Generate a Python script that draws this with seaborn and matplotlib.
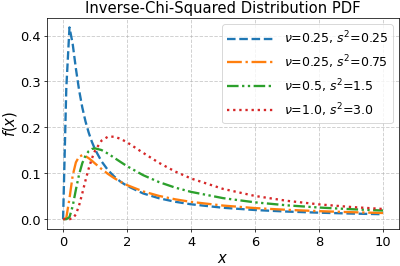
import numpy as np
import pandas as pd
import seaborn as sns
import matplotlib
matplotlib.use("Agg")
import matplotlib.pyplot as plt

# x positions and PDF values
x_vals = [0, 0.1, 0.2, 0.3, 0.4, 0.5, 0.6, 0.7, 0.8, 0.9, 1.0, 1.2, 1.4, 1.6,
          1.8, 2.0, 2.5, 3.0, 3.5, 4.0, 5.0, 6.0, 7.0, 8.0, 9.0, 10.0]

pdf_a = [0, 0.2847, 0.4178, 0.3818, 0.3282, 0.2813, 0.2435, 0.2131, 0.1886,
         0.1685, 0.1519, 0.1261, 0.1071, 0.0927, 0.0814, 0.0724, 0.0561,
         0.0455, 0.0379, 0.0324, 0.0248, 0.0199, 0.0165, 0.0141, 0.0122, 0.0107]
pdf_b = [0, 0.0025, 0.0451, 0.0949, 0.1237, 0.1362, 0.1393, 0.1373, 0.1329,
         0.1273, 0.1212, 0.1094, 0.0987, 0.0893, 0.0812, 0.0742, 0.0605,
         0.0506, 0.0433, 0.0376, 0.0296, 0.0241, 0.0203, 0.0174, 0.0152, 0.0134]
pdf_c = [0, 0.0000, 0.0043, 0.0283, 0.0642, 0.0973, 0.1220, 0.1384, 0.1481,
         0.1529, 0.1542, 0.1506, 0.1429, 0.1337, 0.1244, 0.1154, 0.0959,
         0.0807, 0.0688, 0.0594, 0.0458, 0.0366, 0.0301, 0.0253, 0.0217, 0.0188]
pdf_d = [0, 0.0000, 0.0000, 0.0015, 0.0104, 0.0298, 0.0562, 0.0843, 0.1102,
         0.1321, 0.1494, 0.1710, 0.1796, 0.1797, 0.1749, 0.1674, 0.1446,
         0.1226, 0.1039, 0.0886, 0.0659, 0.0505, 0.0399, 0.0322, 0.0265, 0.0222]

labels = [r"$\nu$=0.25, $s^2$=0.25", r"$\nu$=0.25, $s^2$=0.75",
          r"$\nu$=0.5, $s^2$=1.5", r"$\nu$=1.0, $s^2$=3.0"]
series = [pdf_a, pdf_b, pdf_c, pdf_d]
styles = ["--", "-.", (0, (5, 1.5, 1, 1.5, 1, 1.5)), ":"]
colors = sns.color_palette("tab10", 4)

fig, ax = plt.subplots(figsize=(6, 4), dpi=400 / 6)

for vals, lab, ls, col in zip(series, labels, styles, colors):
    df = pd.DataFrame({"x": x_vals, "y": vals})
    sns.lineplot(data=df, x="x", y="y", ax=ax, label=lab, color=col,
                 linestyle=ls, linewidth=2.5)

ax.set_title("Inverse-Chi-Squared Distribution PDF", fontsize=16)
ax.set_xlabel("$x$", fontsize=16, labelpad=2)
ax.set_ylabel("$f(x)$", fontsize=16, labelpad=1)
ax.tick_params(labelsize=14)
ax.grid(True, linestyle="--", linewidth=1, alpha=0.6)
ax.legend(fontsize=13.5, handlelength=3.7, loc="upper right")

plt.tight_layout(pad=0.1)
plt.savefig("out.png")
